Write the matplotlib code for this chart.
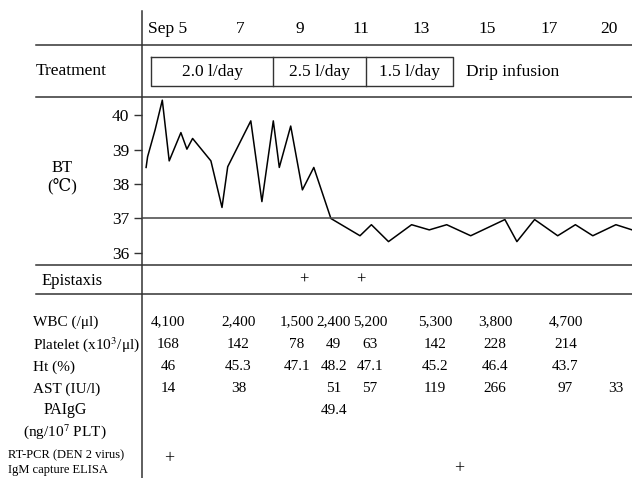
import matplotlib
matplotlib.use('Agg')
import matplotlib.pyplot as plt

plt.rcParams['font.family'] = ['Liberation Serif', 'DejaVu Serif']
plt.rcParams['mathtext.fontset'] = 'stix'

# header dates (day of September) and where they sit
date_lbl = ['Sep 5', '7', '9', '11', '13', '15', '17', '20']
date_pos = [4.57, 7.0, 9.0, 11.03, 13.03, 15.23, 17.3, 19.3]

# treatment segments (day boundaries)
treat_lbl = ['2.0 l/day', '2.5 l/day', '1.5 l/day']
treat_edges = [4.05, 8.1, 11.2, 14.1]
drip_start = 14.55

# body temperature
bt_day = [3.87, 3.92, 4.17, 4.41, 4.64, 5.03, 5.23, 5.42, 6.03, 6.40, 6.59,
          7.36, 7.73, 8.11, 8.31, 8.69, 9.08, 9.46, 10.03, 11.0, 11.38, 11.95,
          12.72, 13.31, 13.89, 14.69, 15.83, 16.23, 16.82, 17.59, 18.18,
          18.76, 19.53, 20.07]
bt_temp = [38.48, 38.79, 39.57, 40.43, 38.67, 39.49, 39.01, 39.32, 38.67,
           37.32, 38.5, 39.83, 37.49, 39.83, 38.48, 39.68, 37.83, 38.48, 37.0,
           36.5, 36.82, 36.33, 36.82, 36.67, 36.82, 36.5, 36.97, 36.33, 36.97,
           36.5, 36.82, 36.5, 36.82, 36.67]

epistaxis_days = [9.13, 11.03]

# lab table columns
col_day = [4.6, 6.95, 8.9, 10.12, 11.33, 13.5, 15.5, 17.85, 19.53]
wbc = ['4,100', '2,400', '1,500', '2,400', '5,200', '5,300', '3,800', '4,700', None]
platelet = ['168', '142', '78', '49', '63', '142', '228', '214', None]
ht = ['46', '45.3', '47.1', '48.2', '47.1', '45.2', '46.4', '43.7', None]
ast = ['14', '38', None, '51', '57', '119', '266', '97', '33']
paigg = [None, None, None, '49.4', None, None, None, None, None]
rtpcr_day = 4.63
elisa_day = 14.3

fig = plt.figure(figsize=(6.32, 4.78), dpi=100)

# layout axes in pixel units
lay = fig.add_axes([0, 0, 1, 1])
lay.set_xlim(0, 632)
lay.set_ylim(478, 0)
lay.axis('off')

# date axes: x in days, y in pixels
tab = fig.add_axes([0, 0, 1, 1], sharey=lay)
tab.set_xlim(-1.0, 20.0667)
tab.axis('off')
tab.patch.set_alpha(0)

rule = dict(color='#333333', lw=1.1)
lay.plot([141.7, 141.7], [11, 478], **rule)
for y in [45, 97, 265, 294]:
    lay.plot([36, 632], [y, y], **rule)

# header
for d, s in zip(date_pos, date_lbl):
    tab.text(d, 29, s, ha='center', va='center', fontsize=12.5)

# treatment row
lay.text(36, 71, 'Treatment', ha='left', va='center', fontsize=12.5)
tab.plot([treat_edges[0], treat_edges[-1], treat_edges[-1], treat_edges[0], treat_edges[0]],
         [57, 57, 86, 86, 57], color='#333333', lw=1.0)
for e in treat_edges[1:-1]:
    tab.plot([e, e], [57, 86], color='#333333', lw=1.0)
for i, s in enumerate(treat_lbl):
    tab.text((treat_edges[i] + treat_edges[i + 1]) / 2, 72, s,
             ha='center', va='center', fontsize=12.5)
tab.text(drip_start, 72, 'Drip infusion', ha='left', va='center', fontsize=12.5)

# BT panel
lay.text(62, 168, 'BT', ha='center', va='center', fontsize=12)
lay.text(62, 186, '(\u2103)', ha='center', va='center', fontsize=12)
bt = fig.add_axes([141.7 / 632, 1 - 265 / 478, (632 - 141.7) / 632, 168 / 478])
bt.patch.set_alpha(0)
bt.plot(bt_day, bt_temp, color='black', lw=1.1)
bt.axhline(37, color='#444444', lw=1.1)
bt.set_xlim(3.7233, 20.0667)
bt.set_ylim(35.652, 40.522)
bt.set_yticks([36, 37, 38, 39, 40])
bt.set_xticks([])
for sp in bt.spines.values():
    sp.set_visible(False)
bt.tick_params(axis='y', direction='out', length=6, width=1.0,
               labelsize=12.5, pad=3, color='#333333')

# epistaxis
lay.text(42, 281, 'Epistaxis', ha='left', va='center', fontsize=12)
for d in epistaxis_days:
    tab.text(d, 280, '+', ha='center', va='center', fontsize=12)

# lab rows
rows = [('WBC (/\u03bcl)', wbc, 322),
        ('Platelet (x10$^3$/\u03bcl)', platelet, 345),
        ('Ht (%)', ht, 367),
        ('AST (IU/l)', ast, 389)]
for lbl, vals, y in rows:
    lay.text(33, y, lbl, ha='left', va='center', fontsize=11)
    for d, v in zip(col_day, vals):
        if v is not None:
            tab.text(d, y, v, ha='center', va='center', fontsize=11)

lay.text(65, 410, 'PAIgG', ha='center', va='center', fontsize=11.5)
lay.text(65, 432, '(ng/10$^7$ PLT)', ha='center', va='center', fontsize=11)
for d, v in zip(col_day, paigg):
    if v is not None:
        tab.text(d, 410, v, ha='center', va='center', fontsize=11)

lay.text(8, 455, 'RT-PCR (DEN 2 virus)', ha='left', va='center', fontsize=9)
lay.text(8, 470, 'IgM capture ELISA', ha='left', va='center', fontsize=9)
tab.text(rtpcr_day, 459, '+', ha='center', va='center', fontsize=13)
tab.text(elisa_day, 469, '+', ha='center', va='center', fontsize=13)

fig.savefig('out.png', dpi=100)
